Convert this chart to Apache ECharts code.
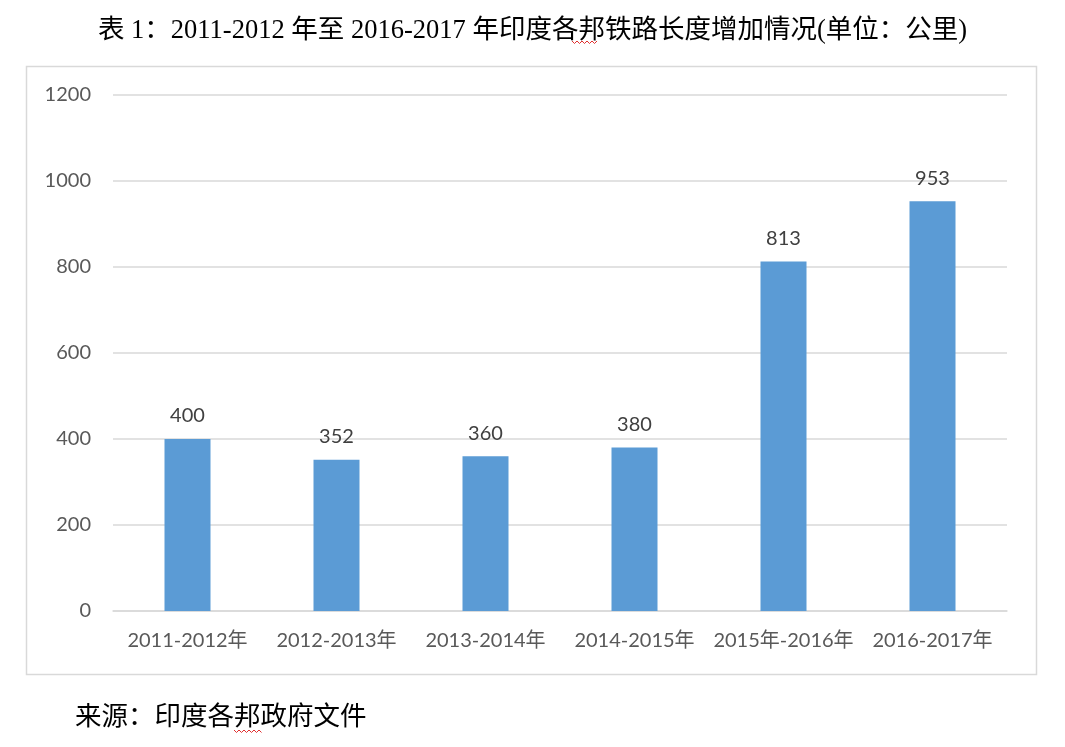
<!DOCTYPE html>
<html>
<head>
<meta charset="utf-8">
<script src="https://cdn.jsdelivr.net/npm/echarts@6/dist/echarts.min.js"></script>
<style>html,body{margin:0;padding:0;background:#fff;}#c{width:1065px;height:747px;}</style>
</head>
<body>
<div id="c"></div>
<script>
const categories = ['2011-2012年', '2012-2013年', '2013-2014年', '2014-2015年', '2015年-2016年', '2016-2017年'];
const values = [400, 352, 360, 380, 813, 953];
const yTicks = [0, 200, 400, 600, 800, 1000, 1200];
const titleText = '表 1：2011-2012 年至 2016-2017 年印度各邦铁路长度增加情况(单位：公里)';
const sourceText = '来源：印度各邦政府文件';

function zigzag(x0, x1, y) {
  const pts = [];
  let up = true;
  for (let x = x0; x <= x1; x += 2.5) { pts.push([x, up ? y : y + 2.5]); up = !up; }
  return pts;
}

const chart = echarts.init(document.getElementById('c'));
chart.setOption({
  animation: false,
  backgroundColor: '#fff',
  title: {
    text: titleText,
    left: 'center',
    top: 13,
    textStyle: { fontFamily: 'Liberation Serif, Noto Sans CJK SC', fontSize: 26.5, fontWeight: 'normal', color: '#000' }
  },
  grid: { left: 113, right: 58, top: 95, bottom: 136 },
  xAxis: {
    type: 'category',
    data: categories,
    axisLine: { lineStyle: { color: '#d9d9d9', width: 1.5 } },
    axisTick: { show: false },
    axisLabel: { interval: 0, color: '#595959', fontFamily: 'Lato, Noto Sans CJK SC', fontSize: 20, margin: 20 }
  },
  yAxis: {
    type: 'value',
    min: yTicks[0],
    max: yTicks[yTicks.length - 1],
    interval: 200,
    axisLine: { show: false },
    axisTick: { show: false },
    splitLine: { lineStyle: { color: '#d9d9d9', width: 1.5 } },
    axisLabel: { color: '#595959', fontFamily: 'Lato', fontSize: 20, margin: 22, formatter: v => String(v) }
  },
  series: [{
    type: 'bar',
    data: values,
    barWidth: 46,
    itemStyle: { color: '#5b9bd5' },
    label: { show: true, position: 'top', distance: 13, color: '#404040', fontFamily: 'Lato', fontSize: 20 }
  }],
  graphic: [
    { type: 'rect', shape: { x: 26.5, y: 66.5, width: 1010, height: 608 }, style: { fill: 'none', stroke: '#d9d9d9', lineWidth: 1.5 }, silent: true },
    { type: 'text', left: 75, top: 702, style: { text: sourceText, fontFamily: 'Noto Sans CJK SC', fontSize: 26.5, fill: '#000' } },
    { type: 'polyline', shape: { points: zigzag(572, 598, 41) }, style: { stroke: '#e03030', lineWidth: 1, fill: 'none' } },
    { type: 'polyline', shape: { points: zigzag(234, 263, 730) }, style: { stroke: '#e03030', lineWidth: 1, fill: 'none' } }
  ]
});
</script>
</body>
</html>
